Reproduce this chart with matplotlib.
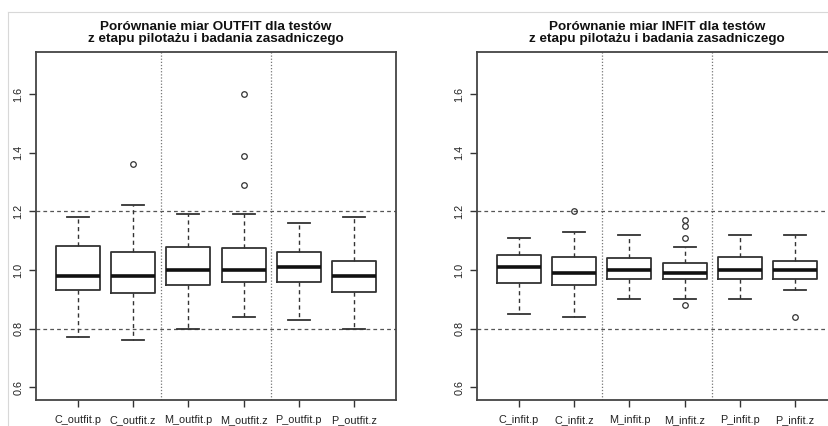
import matplotlib
matplotlib.use("Agg")
import matplotlib.pyplot as plt
from matplotlib.lines import Line2D

plt.rcParams['font.family'] = ['Liberation Sans', 'DejaVu Sans']

# OUTFIT (left panel)
outfit_labels = ['C_outfit.p', 'C_outfit.z', 'M_outfit.p', 'M_outfit.z', 'P_outfit.p', 'P_outfit.z']
outfit_whislo = [0.77, 0.76, 0.80, 0.84, 0.83, 0.80]
outfit_q1 = [0.93, 0.92, 0.95, 0.96, 0.96, 0.926]
outfit_med = [0.98, 0.98, 1.00, 1.00, 1.01, 0.98]
outfit_q3 = [1.083, 1.06, 1.079, 1.074, 1.06, 1.03]
outfit_whishi = [1.18, 1.22, 1.19, 1.19, 1.16, 1.18]
outfit_fliers = [[], [1.36], [], [1.6, 1.39, 1.29], [], []]

# INFIT (right panel)
infit_labels = ['C_infit.p', 'C_infit.z', 'M_infit.p', 'M_infit.z', 'P_infit.p', 'P_infit.z']
infit_whislo = [0.85, 0.84, 0.90, 0.90, 0.90, 0.93]
infit_q1 = [0.955, 0.95, 0.97, 0.97, 0.97, 0.97]
infit_med = [1.01, 0.99, 1.00, 0.99, 1.00, 1.00]
infit_q3 = [1.05, 1.043, 1.04, 1.024, 1.043, 1.03]
infit_whishi = [1.11, 1.13, 1.12, 1.08, 1.12, 1.12]
infit_fliers = [[], [1.2], [], [1.17, 1.15, 1.11, 0.88], [], [0.84]]

titles = ['Porównanie miar OUTFIT dla testów\nz etapu pilotażu i badania zasadniczego',
          'Porównanie miar INFIT dla testów\nz etapu pilotażu i badania zasadniczego']

col = '#333333'

fig = plt.figure(figsize=(8.29, 4.26), dpi=100)
# light frame of the original screenshot
fig.add_artist(Line2D([8 / 829, 1], [1 - 12 / 426, 1 - 12 / 426], color='#d8d8d8', lw=0.8))
fig.add_artist(Line2D([8 / 829, 8 / 829], [0, 1 - 12 / 426], color='#d8d8d8', lw=0.8))

panels = [
    (outfit_labels, outfit_whislo, outfit_q1, outfit_med, outfit_q3, outfit_whishi, outfit_fliers),
    (infit_labels, infit_whislo, infit_q1, infit_med, infit_q3, infit_whishi, infit_fliers),
]
lefts = [36 / 829, 477 / 829]

for i, (labels, lo, q1, med, q3, hi, fl) in enumerate(panels):
    ax = fig.add_axes([lefts[i], 1 - 400 / 426, 360 / 829, 348 / 426])
    stats = []
    for j in range(len(labels)):
        stats.append(dict(label=labels[j], whislo=lo[j], q1=q1[j], med=med[j],
                          q3=q3[j], whishi=hi[j], fliers=fl[j]))
    ax.bxp(stats, positions=range(1, 7), widths=0.8, capwidths=0.4,
           boxprops=dict(color=col, lw=1.3),
           medianprops=dict(color='#111111', lw=2.6, solid_capstyle='butt'),
           whiskerprops=dict(color=col, lw=1.0, linestyle=(0, (3, 2.5))),
           capprops=dict(color=col, lw=1.3),
           flierprops=dict(marker='o', markersize=4, markerfacecolor='none',
                           markeredgecolor=col, markeredgewidth=0.9))
    for yv in [0.8, 1.2]:
        ax.axhline(yv, color='#555555', lw=0.9, linestyle=(0, (3, 2.5)), zorder=0)
    for xv in [2.5, 4.5]:
        ax.axvline(xv, color='#777777', lw=0.9, linestyle=(0, (1, 1.5)), zorder=0)
    ax.set_xlim(0.24, 6.76)
    ax.set_ylim(0.556, 1.744)
    ax.set_yticks([0.6, 0.8, 1.0, 1.2, 1.4, 1.6])
    ax.set_yticklabels(['0.6', '0.8', '1.0', '1.2', '1.4', '1.6'], rotation=90, va='center')
    ax.tick_params(axis='both', colors=col, labelcolor='#222222', labelsize=7.8,
                   length=5, width=1.0)
    ax.tick_params(axis='x', pad=6)
    ax.tick_params(axis='y', pad=4)
    for s in ax.spines.values():
        s.set_color('#444444')
        s.set_linewidth(1.3)
    if i == 1:
        # the reference screenshot is cut off before this panel's right border
        ax.spines['right'].set_visible(False)
    ax.set_title(titles[i], fontsize=9.7, fontweight='bold', color='#111111',
                 pad=7, linespacing=1.0)

fig.savefig('out.png', dpi=100)
